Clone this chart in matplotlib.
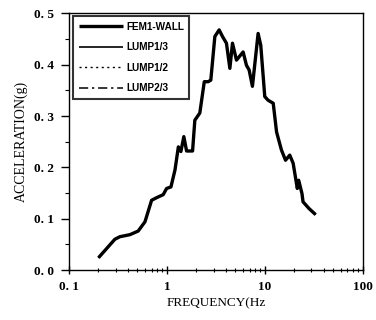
import matplotlib
matplotlib.use("Agg")
import matplotlib.pyplot as plt
from matplotlib.ticker import FixedLocator, FixedFormatter, MultipleLocator, LogLocator, NullFormatter

freq = [0.2, 0.294, 0.331, 0.419, 0.509, 0.597, 0.698, 0.785, 0.918, 0.993, 1.10, 1.21, 1.31,
        1.39, 1.49, 1.59, 1.83, 1.93, 2.17, 2.41, 2.64, 2.81, 3.09, 3.42, 3.70, 4.06, 4.40,
        4.68, 5.14, 6.01, 6.50, 6.92, 7.48, 8.55, 9.10, 10.0, 10.8, 12.2, 13.2, 14.8, 16.3,
        18.0, 19.5, 21.5, 22.2, 24.0, 24.6, 28.3, 33.1]
accel = [0.024, 0.060, 0.065, 0.069, 0.076, 0.094, 0.136, 0.141, 0.147, 0.159, 0.162, 0.195, 0.240,
         0.231, 0.260, 0.232, 0.232, 0.292, 0.306, 0.367, 0.367, 0.370, 0.455, 0.468, 0.455, 0.442, 0.393,
         0.442, 0.409, 0.425, 0.399, 0.390, 0.358, 0.461, 0.438, 0.338, 0.331, 0.325, 0.269, 0.234, 0.214,
         0.224, 0.208, 0.159, 0.175, 0.149, 0.133, 0.120, 0.108]

series_names = ["FEM1-WALL", "LUMP1/3", "LUMP1/2", "LUMP2/3"]
xtick_vals = [0.1, 1, 10, 100]
xtick_labels = ["0. 1", "1", "10", "100"]
ytick_vals = [0.0, 0.1, 0.2, 0.3, 0.4, 0.5]
ytick_labels = ["0. 0", "0. 1", "0. 2", "0. 3", "0. 4", "0. 5"]

fig = plt.figure(figsize=(3.76, 3.2), dpi=100)
ax = fig.add_axes([0.1835, 0.156, 0.781, 0.802])

styles = [dict(lw=2.4, ls="-"), dict(lw=1.2, ls="-"), dict(lw=1.0, ls=(0, (1.5, 2.5))), dict(lw=1.1, ls=(0, (6, 2.5, 1.5, 2.5)))]
for name, st in zip(series_names, styles):
    ax.plot(freq, accel, color="black", label=name, solid_capstyle="butt", **st)

ax.set_xscale("log")
ax.set_xlim(0.1, 100)
ax.set_ylim(0.0, 0.5)
ax.xaxis.set_major_locator(FixedLocator(xtick_vals))
ax.xaxis.set_major_formatter(FixedFormatter(xtick_labels))
ax.xaxis.set_minor_locator(LogLocator(base=10, subs=range(2, 10)))
ax.xaxis.set_minor_formatter(NullFormatter())
ax.yaxis.set_major_locator(FixedLocator(ytick_vals))
ax.yaxis.set_major_formatter(FixedFormatter(ytick_labels))
ax.yaxis.set_minor_locator(MultipleLocator(0.05))

serif = "Liberation Serif"
for lab in ax.get_xticklabels() + ax.get_yticklabels():
    lab.set_fontfamily(serif)
    lab.set_fontsize(9.5)
    lab.set_fontweight("bold")
ax.tick_params(which="major", direction="inout", length=6, width=1.0, pad=5)
ax.tick_params(which="minor", direction="inout", length=3, width=0.8)
ax.tick_params(axis="y", which="both", direction="out")
for s in ax.spines.values():
    s.set_linewidth(1.0)
    s.set_color("black")

ax.set_xlabel("FREQUENCY(Hz", fontfamily=serif, fontsize=9.5, labelpad=3)
ax.set_ylabel("ACCELERATION(g)", fontfamily=serif, fontsize=10, labelpad=4)

leg = ax.legend(loc="upper left", bbox_to_anchor=(0.015, 0.99), fancybox=False, frameon=True,
                edgecolor="black", handlelength=4.4, handletextpad=0.3, labelspacing=1.05,
                borderpad=0.55, borderaxespad=0.0,
                prop={"family": "Liberation Sans", "size": 7.2, "weight": "bold", "stretch": "condensed"})
leg.get_frame().set_linewidth(1.5)

fig.savefig("out.png", dpi=100)
